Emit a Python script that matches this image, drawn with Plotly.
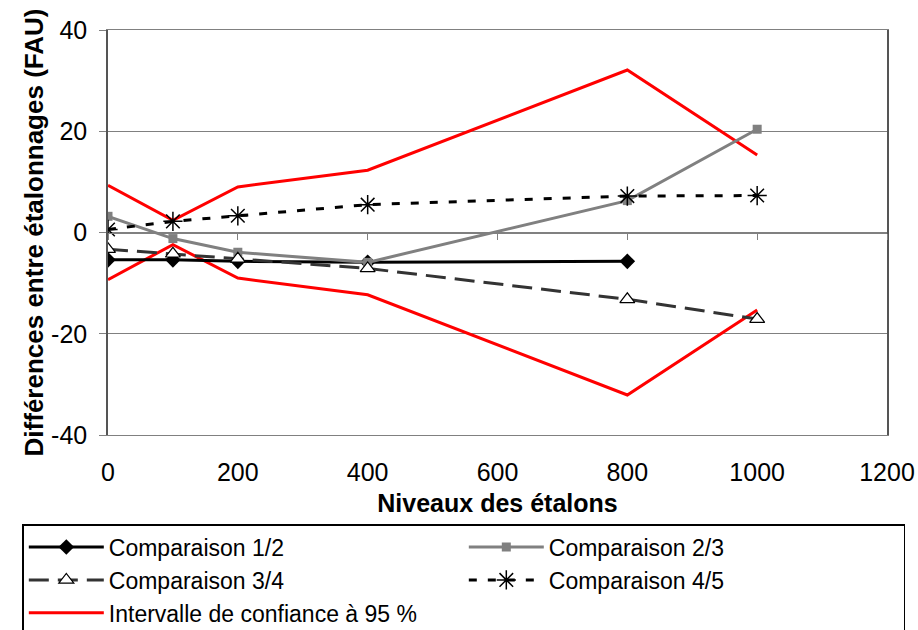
import plotly.graph_objects as go

# x levels (standards)
niveaux = [0, 100, 200, 400, 800, 1000]

comp_12 = [-5.4, -5.4, -5.7, -5.9, -5.7]
comp_23 = [3.2, -1.2, -3.9, -5.9, 6.3, 20.4]
comp_34 = [-3.3, -4.2, -5.2, -7.1, -13.2, -17.1]
comp_45 = [0.6, 2.2, 3.3, 5.5, 7.2, 7.3]
ic_haut = [9.3, 2.4, 9.0, 12.3, 32.1, 15.3]
ic_bas = [-9.3, -2.4, -9.0, -12.3, -32.1, -15.3]

y_ticks = [-40, -20, 0, 20, 40]
x_ticks = [0, 200, 400, 600, 800, 1000, 1200]

FONT = "Liberation Sans, Arial, sans-serif"

fig = go.Figure()

# confidence interval (two branches, one legend entry)
fig.add_trace(go.Scatter(
    x=niveaux, y=ic_haut, mode="lines", name="Intervalle de confiance à 95 %",
    line=dict(color="#ff0000", width=3), legendgroup="ic", legendrank=5,
))
fig.add_trace(go.Scatter(
    x=niveaux, y=ic_bas, mode="lines", showlegend=False,
    line=dict(color="#ff0000", width=3), legendgroup="ic",
))

fig.add_trace(go.Scatter(
    x=niveaux[:5], y=comp_12, mode="lines+markers", name="Comparaison 1/2",
    line=dict(color="black", width=3),
    marker=dict(symbol="diamond", size=12, color="black"), legendrank=1,
))
fig.add_trace(go.Scatter(
    x=niveaux, y=comp_23, mode="lines+markers", name="Comparaison 2/3",
    line=dict(color="#808080", width=3),
    marker=dict(symbol="square", size=9, color="#808080"), legendrank=2,
))
fig.add_trace(go.Scatter(
    x=niveaux, y=comp_34, mode="lines+markers", name="Comparaison 3/4",
    line=dict(color="#333333", width=3, dash="20px,9px"),
    marker=dict(symbol="triangle-up", size=13, color="white",
                line=dict(color="black", width=1.2)), legendrank=3,
))
fig.add_trace(go.Scatter(
    x=niveaux, y=comp_45, mode="lines+markers", name="Comparaison 4/5",
    line=dict(color="black", width=3, dash="8px,11px"),
    marker=dict(symbol="asterisk-open", size=16, color="black",
                line=dict(color="black", width=1.5)), legendrank=4,
))

# axis line with tick marks at y = 0
fig.add_trace(go.Scatter(x=[None], y=[None], xaxis="x2", showlegend=False))

fig.update_layout(
    width=918, height=630,
    margin=dict(l=108, r=31, t=30, b=195, autoexpand=False),
    paper_bgcolor="white", plot_bgcolor="white",
    font=dict(family=FONT, size=24, color="black"),
    xaxis=dict(
        range=[0, 1200], tickvals=x_ticks, ticks="outside", ticklen=15,
        tickcolor="rgba(0,0,0,0)", showgrid=False, zeroline=False,
        showline=True, linecolor="#808080", linewidth=1.2, mirror=True,
        title=dict(text="<b>Niveaux des étalons</b>", font=dict(size=25), standoff=9),
        tickfont=dict(size=25), ticklabeloverflow="allow",
    ),
    xaxis2=dict(
        overlaying="x", anchor="free", position=0.5, range=[0, 1200],
        tickvals=x_ticks, ticks="outside", ticklen=6, tickcolor="#808080",
        showticklabels=False, showgrid=False, zeroline=False,
        showline=True, linecolor="#808080", linewidth=1.2,
    ),
    yaxis=dict(
        range=[-40, 40], tickvals=y_ticks, ticktext=[str(v) for v in y_ticks],
        ticks="outside", ticklen=7, tickcolor="#808080", ticklabelstandoff=7,
        showgrid=True, gridcolor="#808080", gridwidth=1.2, zeroline=False,
        showline=True, linecolor="#555555", linewidth=1.5, mirror=True,
        title=dict(text="<b>Différences entre étalonnages (FAU)</b>", font=dict(size=26), standoff=0),
        tickfont=dict(size=25),
    ),
    legend=dict(
        orientation="h", x=-0.110, y=-0.22, xanchor="left", yanchor="top",
        entrywidth=350, entrywidthmode="pixels", traceorder="normal",
        bordercolor="black", borderwidth=1.5, font=dict(size=23),
        tracegroupgap=0, itemwidth=75,
    ),
)

# drop the default page margin so the figure fills the window exactly
fig.write_html(
    "out.html",
    config={"displayModeBar": False},
    post_script="document.body.style.margin = '0';",
)
